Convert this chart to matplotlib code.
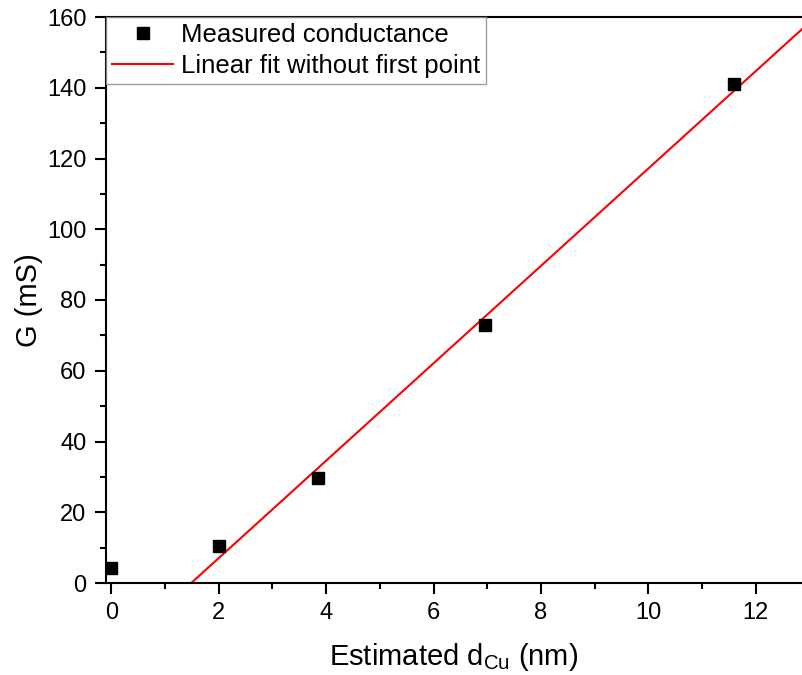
import numpy as np
import matplotlib
matplotlib.use("Agg")
import matplotlib.pyplot as plt
from matplotlib.ticker import MultipleLocator

plt.rcParams['font.family'] = ['Liberation Sans', 'DejaVu Sans']
plt.rcParams['mathtext.fontset'] = 'custom'
plt.rcParams['mathtext.rm'] = 'Liberation Sans'

# Measured conductance vs estimated Cu thickness
d_cu = [0.0, 2.0, 3.85, 6.95, 11.6]
g_ms = [4.2, 10.5, 29.7, 72.8, 141.0]

# linear fit leaving out the first point
slope, icpt = np.polyfit(d_cu[1:], g_ms[1:], 1)

fig = plt.figure(figsize=(8.02, 6.75), dpi=100)
ax = fig.add_axes([106 / 802, 1 - 583 / 675, 1 - 106 / 802, (583 - 17) / 675])

xmax = 12.86
x0 = -icpt / slope
xfit = np.array([x0, xmax + 0.5])
ax.plot(d_cu, g_ms, 's', color='black', markersize=8.5, label='Measured conductance', zorder=3)
ax.plot(xfit, slope * xfit + icpt, '-', color='red', lw=1.5, label='Linear fit without first point')

ax.set_xlim(-0.1, xmax)
ax.set_ylim(0, 160)
ax.xaxis.set_major_locator(MultipleLocator(2))
ax.xaxis.set_minor_locator(MultipleLocator(1))
ax.yaxis.set_major_locator(MultipleLocator(20))
ax.yaxis.set_minor_locator(MultipleLocator(10))

for s in ax.spines.values():
    s.set_linewidth(1.5)
ax.spines['right'].set_visible(False)
ax.tick_params(which='major', direction='out', length=8, width=1.5, labelsize=17, pad=6)
ax.tick_params(which='minor', direction='out', length=4.5, width=1.5)
ax.tick_params(top=False, right=False)

ax.set_xlabel(r'Estimated d$_{\mathrm{Cu}}$ (nm)', fontsize=21, labelpad=12)
ax.set_ylabel('G (mS)', fontsize=21, labelpad=3)

leg = ax.legend(loc='upper left', fontsize=18.5, frameon=True, fancybox=False,
                borderaxespad=0, handlelength=2.35, handletextpad=0.3,
                borderpad=0.25, labelspacing=0.25)
leg.get_frame().set_edgecolor('#888888')
leg.get_frame().set_linewidth(1.0)

fig.savefig('out.png', dpi=100)
